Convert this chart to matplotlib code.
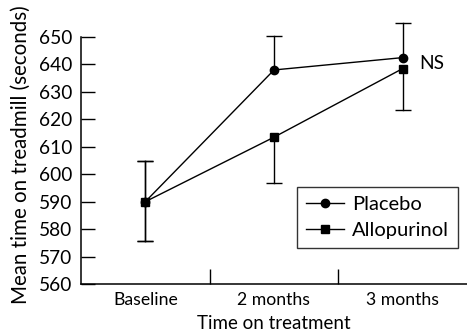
import numpy as np
import matplotlib.pyplot as plt

plt.rcParams['font.family'] = ['Lato', 'DejaVu Sans']

# data
timepoints = ['Baseline', '2 months', '3 months']
placebo = [590, 638, 642.5]
placebo_err_low = [14.5, 0, 0]
placebo_err_high = [15, 12.5, 12.5]
allopurinol = [590, 613.5, 638.5]
allo_err_low = [14.5, 16.7, 15]
allo_err_high = [15, 0, 0]

fig = plt.figure(figsize=(4.67, 3.33), dpi=100)
ax = fig.add_axes([0.1734, 0.1471, 0.8266, 0.7417])

x = np.arange(len(timepoints))


def draw_err(vals, low, high):
    # one-sided bars: only draw the parts that are non-zero
    for xi, v, lo, hi in zip(x, vals, low, high):
        for end in (v - lo, v + hi):
            if end != v:
                ax.plot([xi, xi], [v, end], color='black', lw=1, clip_on=False, zorder=2)
                ax.plot([xi], [end], marker='_', markersize=12, mew=1,
                        color='black', clip_on=False, zorder=2)


draw_err(placebo, placebo_err_low, placebo_err_high)
draw_err(allopurinol, allo_err_low, allo_err_high)

ax.plot(x, placebo, color='black', marker='o', markersize=6, lw=1,
        label='Placebo', clip_on=False, zorder=3)
ax.plot(x, allopurinol, color='black', marker='s', markersize=6, lw=1,
        label='Allopurinol', clip_on=False, zorder=3)

ax.text(2.13, 640.5, 'NS', fontsize=13.8, va='center', ha='left')

ax.set_xlim(-0.5, 2.5)
ax.set_ylim(560, 650)
ax.set_yticks(np.arange(560, 651, 10))

# boundary ticks between categories, labels at category centres
ax.set_xticks([0.5, 1.5])
ax.set_xticklabels([])
ax.set_xticks(x, minor=True)
ax.set_xticklabels(timepoints, minor=True)
ax.tick_params(axis='x', which='major', direction='in', length=11, width=1)
ax.tick_params(axis='x', which='minor', length=0, pad=6, labelsize=12.7)
ax.tick_params(axis='y', direction='in', length=10, width=1, pad=6, labelsize=13.8)

for side in ['top', 'right']:
    ax.spines[side].set_visible(False)
for side in ['left', 'bottom']:
    ax.spines[side].set_linewidth(1.1)

ax.set_xlabel('Time on treatment', fontsize=13.5, labelpad=5)
fig.text(21 / 467, 1 - 155 / 333, 'Mean time on treadmill (seconds)', fontsize=14.8,
         rotation=90, ha='center', va='center')

leg = ax.legend(loc='lower right', bbox_to_anchor=(0.977, 0.146), borderaxespad=0,
                fancybox=False, edgecolor='black', fontsize=14.5, handlelength=1.9,
                handletextpad=0.4, labelspacing=0.45, borderpad=0.45)
leg.get_frame().set_linewidth(1)

fig.savefig('out.png', dpi=100)
